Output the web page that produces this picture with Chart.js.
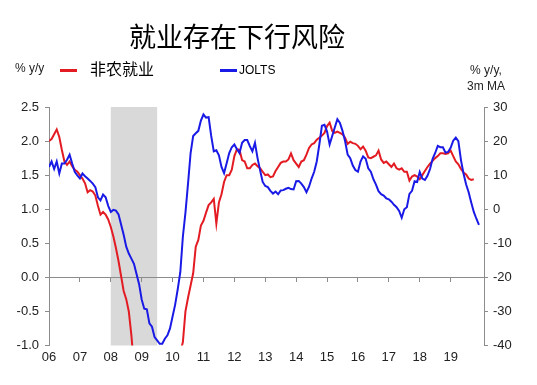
<!DOCTYPE html>
<html>
<head>
<meta charset="utf-8">
<script src="https://cdn.jsdelivr.net/npm/chart.js@4.4.1/dist/chart.umd.min.js"></script>
<style>
  html, body { margin: 0; padding: 0; background: #fff; }
  #wrap { position: relative; width: 537px; height: 385px; overflow: hidden; }
  #c { position: absolute; left: 0; top: 0; }
  .t { position: absolute; white-space: nowrap; line-height: 1; color: #222; font-family: "Liberation Sans", Arial, sans-serif; }
  #title { left: 0; width: 474px; top: 22px; text-align: center; font-family: "Noto Sans CJK SC", sans-serif; font-size: 27px; color: #000; }
  #lunit { left: 15px; top: 62px; font-size: 12px; }
  #runit { left: 462px; top: 62px; font-size: 12px; text-align: center; line-height: 16px; width: 48px; }
  .sw { position: absolute; height: 3px; width: 17px; }
  #swr { left: 60px; top: 69px; background: #e31b23; }
  #swb { left: 220px; top: 69px; background: #1a1ae6; }
  #lr { left: 90px; top: 60px; font-family: "Noto Sans CJK SC", sans-serif; font-size: 16px; color: #000; }
  #lb { left: 239px; top: 64px; font-size: 12px; color: #000; }
</style>
</head>
<body>
<div id="wrap">
  <canvas id="c" width="537" height="385"></canvas>
  <div class="t" id="title">就业存在下行风险</div>
  <div class="t" id="lunit">% y/y</div>
  <div class="sw" id="swr"></div>
  <div class="t" id="lr">非农就业</div>
  <div class="sw" id="swb"></div>
  <div class="t" id="lb">JOLTS</div>
  <div class="t" id="runit">% y/y,<br>3m MA</div>
</div>
<script>
// ---- data (monthly, starting Jan 2006) ----
const startYear = 2006;
const seriesNames = ['非农就业', 'JOLTS'];
// Nonfarm payrolls, % y/y (left axis)
const nfp = [
  2.00,2.03,2.10,2.17,2.06,1.87,1.70,1.65,1.70,1.63,1.58,1.55,
  1.50,1.45,1.38,1.25,1.28,1.26,1.20,1.05,0.92,0.96,0.92,0.85,
  0.74,0.60,0.43,0.24,0.02,-0.20,-0.32,-0.50,-0.85,-1.3,-1.8,-2.4,
  -2.9,-3.4,-3.8,-4.1,-4.3,-4.4,-4.4,-4.2,-3.9,-3.5,-3.0,-2.5,
  -2.0,-1.6,-1.3,-1.1,-0.95,-0.50,-0.30,-0.12,0.06,0.45,0.55,0.76,
  0.83,0.95,1.06,1.10,1.15,0.79,1.10,1.22,1.40,1.50,1.50,1.58,
  1.78,1.88,1.87,1.72,1.70,1.60,1.60,1.65,1.67,1.63,1.60,1.55,
  1.50,1.51,1.47,1.48,1.56,1.62,1.68,1.70,1.70,1.73,1.82,1.72,
  1.67,1.62,1.70,1.72,1.80,1.90,1.95,1.97,2.02,2.05,2.08,2.12,
  2.22,2.27,2.15,2.12,2.14,2.12,2.10,2.05,1.96,1.99,1.97,1.96,
  1.93,1.88,1.92,1.86,1.76,1.75,1.77,1.79,1.86,1.73,1.68,1.70,
  1.66,1.62,1.67,1.60,1.58,1.60,1.55,1.55,1.42,1.48,1.50,1.48,
  1.44,1.50,1.56,1.62,1.67,1.71,1.75,1.78,1.82,1.82,1.81,1.82,
  1.86,1.78,1.70,1.66,1.59,1.54,1.51,1.45,1.43,1.44
];
// JOLTS job openings, % y/y 3m MA (right axis)
const jolts = [
  12.4,14.0,11.8,14.0,10.5,13.4,13.4,14.5,16.0,13.4,11.0,9.9,
  9.0,10.5,9.7,9.0,8.3,7.5,6.5,3.5,2.6,4.3,3.5,1.0,
  -0.8,-0.2,-0.4,-1.5,-4.5,-7.5,-11.0,-13.0,-14.5,-16.0,-19.0,-22.0,
  -26.5,-29.2,-29.4,-33.5,-34.5,-37.5,-38.5,-39.5,-39.5,-38.0,-37.0,-35.0,
  -31.5,-28.0,-23.5,-18.5,-8.0,-1.0,7.5,16.5,21.5,22.3,23.0,26.0,
  27.8,26.9,27.0,21.5,17.0,17.3,15.8,12.4,10.6,13.5,16.5,18.2,
  19.0,17.6,16.5,19.5,20.3,20.3,18.5,17.0,19.5,15.0,11.4,8.0,
  6.8,6.5,5.4,4.6,5.2,4.4,5.5,5.6,6.0,6.3,5.9,5.8,
  8.2,8.3,7.5,6.5,5.0,6.6,9.0,11.0,14.0,19.0,24.5,24.8,
  22.8,19.0,21.5,24.0,26.4,25.3,23.0,20.0,16.0,15.0,12.8,11.5,
  11.0,14.0,15.5,14.8,12.0,11.0,8.8,7.2,5.3,4.4,4.0,3.2,
  2.9,2.2,1.3,0.6,-0.5,-2.5,0.0,0.6,4.5,5.4,8.2,8.0,
  10.9,9.0,8.6,9.8,11.8,14.8,16.5,18.6,18.2,18.2,16.6,16.8,
  18.0,20.1,21.0,20.0,14.5,10.5,7.3,5.0,2.0,-0.8,-2.8,-4.6
];
const xTickYears = [2006,2007,2008,2009,2010,2011,2012,2013,2014,2015,2016,2017,2018,2019];
const xTickLabels = ['06','07','08','09','10','11','12','13','14','15','16','17','18','19'];
const leftTicks = [-1.0,-0.5,0.0,0.5,1.0,1.5,2.0,2.5];
const rightTicks = [-40,-30,-20,-10,0,10,20,30];
const recession = [[2008.0, 2009.5]];
const xRange = [2006, 2020.08];

const toXY = arr => arr.map((v, i) => ({ x: startYear + i / 12, y: v }));
const FONT = { family: '"Liberation Sans", Arial, sans-serif', size: 13 };
const AXIS = '#8c8c8c';

const bandPlugin = {
  id: 'band',
  beforeDraw(chart) {
    const { ctx, chartArea, scales } = chart;
    const xs = scales.x;
    ctx.save();
    ctx.fillStyle = '#d9d9d9';
    recession.forEach(([a, b]) => {
      const x0 = xs.getPixelForValue(a), x1 = xs.getPixelForValue(b);
      ctx.fillRect(x0, chartArea.top, x1 - x0, chartArea.bottom - chartArea.top);
    });
    ctx.restore();
  }
};

new Chart(document.getElementById('c'), {
  type: 'line',
  data: {
    datasets: [
      { label: seriesNames[0], data: toXY(nfp), xAxisID: 'x', yAxisID: 'y',
        borderColor: '#e31b23', borderWidth: 2, pointRadius: 0, tension: 0, order: 2 },
      { label: seriesNames[1], data: toXY(jolts), xAxisID: 'x', yAxisID: 'y1',
        borderColor: '#1a1ae6', borderWidth: 2, pointRadius: 0, tension: 0, order: 1 }
    ]
  },
  options: {
    responsive: false,
    animation: false,
    devicePixelRatio: 1,
    layout: { padding: { top: 107, left: 0, right: 0, bottom: 0 } },
    plugins: { legend: { display: false }, tooltip: { enabled: false }, title: { display: false } },
    scales: {
      x: {
        type: 'linear', min: xRange[0], max: xRange[1],
        position: { y: 0 },
        afterBuildTicks: s => { s.ticks = xTickYears.map(v => ({ value: v })); },
        ticks: { display: false },
        grid: { drawOnChartArea: false, drawTicks: true, tickLength: 4, color: AXIS },
        border: { display: true, color: AXIS, width: 1 }
      },
      xb: {
        type: 'linear', min: xRange[0], max: xRange[1],
        position: 'bottom',
        afterBuildTicks: s => { s.ticks = xTickYears.map(v => ({ value: v })); },
        afterFit: s => { s.height = 39.5; },
        ticks: { color: '#222', font: FONT, padding: 4, maxRotation: 0, autoSkip: false,
                 callback: (v) => xTickLabels[xTickYears.indexOf(v)] ?? '' },
        grid: { display: false, drawTicks: false },
        border: { display: false }
      },
      y: {
        type: 'linear', position: 'left', min: -1, max: 2.5,
        afterBuildTicks: s => { s.ticks = leftTicks.map(v => ({ value: v })); },
        afterFit: s => { s.width = 49; },
        ticks: { color: '#222', font: FONT, padding: 6, callback: v => v.toFixed(1) },
        grid: { drawOnChartArea: false, drawTicks: true, tickLength: 4, color: AXIS },
        border: { display: true, color: AXIS, width: 1 }
      },
      y1: {
        type: 'linear', position: 'right', min: -40, max: 30,
        afterBuildTicks: s => { s.ticks = rightTicks.map(v => ({ value: v })); },
        afterFit: s => { s.width = 53; },
        ticks: { color: '#222', font: FONT, padding: 5, callback: v => String(v) },
        grid: { drawOnChartArea: false, drawTicks: true, tickLength: 4, color: AXIS },
        border: { display: true, color: AXIS, width: 1 }
      }
    }
  },
  plugins: [bandPlugin]
});
</script>
</body>
</html>
